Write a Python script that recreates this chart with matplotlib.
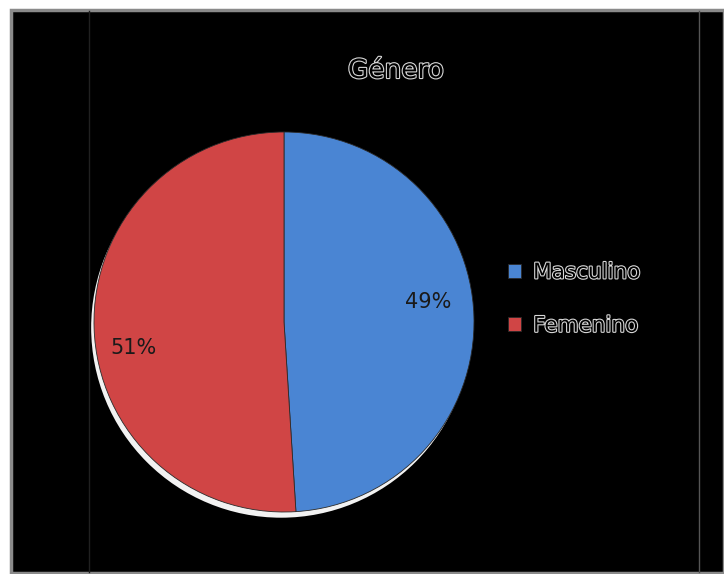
import matplotlib.pyplot as plt
from matplotlib.patches import Rectangle, Circle
from matplotlib.lines import Line2D
import matplotlib.patheffects as pe

# data
labels = ["Masculino", "Femenino"]
values = [49, 51]
colors = ["#4a85d3", "#d04545"]
title = "Género"

W, H = 724, 574
fig = plt.figure(figsize=(W / 100, H / 100), dpi=100)
fig.patch.set_facecolor("white")

# black chart area with grey frame
fig.add_artist(Rectangle((11 / W, 1 / H), (W - 11) / W, (572 - 9) / H,
                         transform=fig.transFigure, facecolor="black",
                         edgecolor="#8a8a8a", linewidth=2.5, zorder=0))
fig.add_artist(Line2D([89 / W, 89 / W], [2 / H, (H - 11) / H],
                      transform=fig.transFigure, color="#202020", lw=1))
fig.add_artist(Line2D([699 / W, 699 / W], [2 / H, (H - 11) / H],
                      transform=fig.transFigure, color="#555555", lw=1))

outline = [pe.withStroke(linewidth=1.6, foreground="#d8d8d8")]

ax = fig.add_axes([(284 - 190) / W, (H - 322 - 190) / H, 380 / W, 380 / H])
ax.set_facecolor("none")

# light shadow under the pie
ax.add_patch(Circle((-0.015, -0.03), 1.0, facecolor="#f2f2f2",
                    edgecolor="none", zorder=0, clip_on=False))

wedges, texts, autotexts = ax.pie(
    values, colors=colors, startangle=90, counterclock=False,
    autopct="%1.0f%%", pctdistance=0.78, radius=1.0,
    wedgeprops=dict(edgecolor="#2a2a2a", linewidth=0.6, clip_on=False),
    textprops=dict(fontsize=15, color="#1a1a1a"))
# nudge percentages to where the original puts them
autotexts[0].set_position((autotexts[0].get_position()[0] - 0.02,
                           autotexts[0].get_position()[1] + 0.08))
autotexts[1].set_position((autotexts[1].get_position()[0] - 0.01,
                           autotexts[1].get_position()[1] - 0.11))
ax.set_xlim(-1.0, 1.0)
ax.set_ylim(-1.0, 1.0)
ax.set_aspect("equal")
ax.axis("off")

fig.text(396 / W, 1 - 71 / H, title, ha="center", va="center",
         fontsize=19, color="black", path_effects=outline)

leg = fig.legend(wedges, labels, loc="upper left",
                 bbox_to_anchor=(489 / W, 1 - 243 / H), frameon=False,
                 fontsize=15.5, handlelength=0.6, handleheight=0.6,
                 handletextpad=0.55, labelspacing=1.55)
for t in leg.get_texts():
    t.set_color("black")
    t.set_path_effects(outline)

plt.savefig("out.png", dpi=100, facecolor="white")
